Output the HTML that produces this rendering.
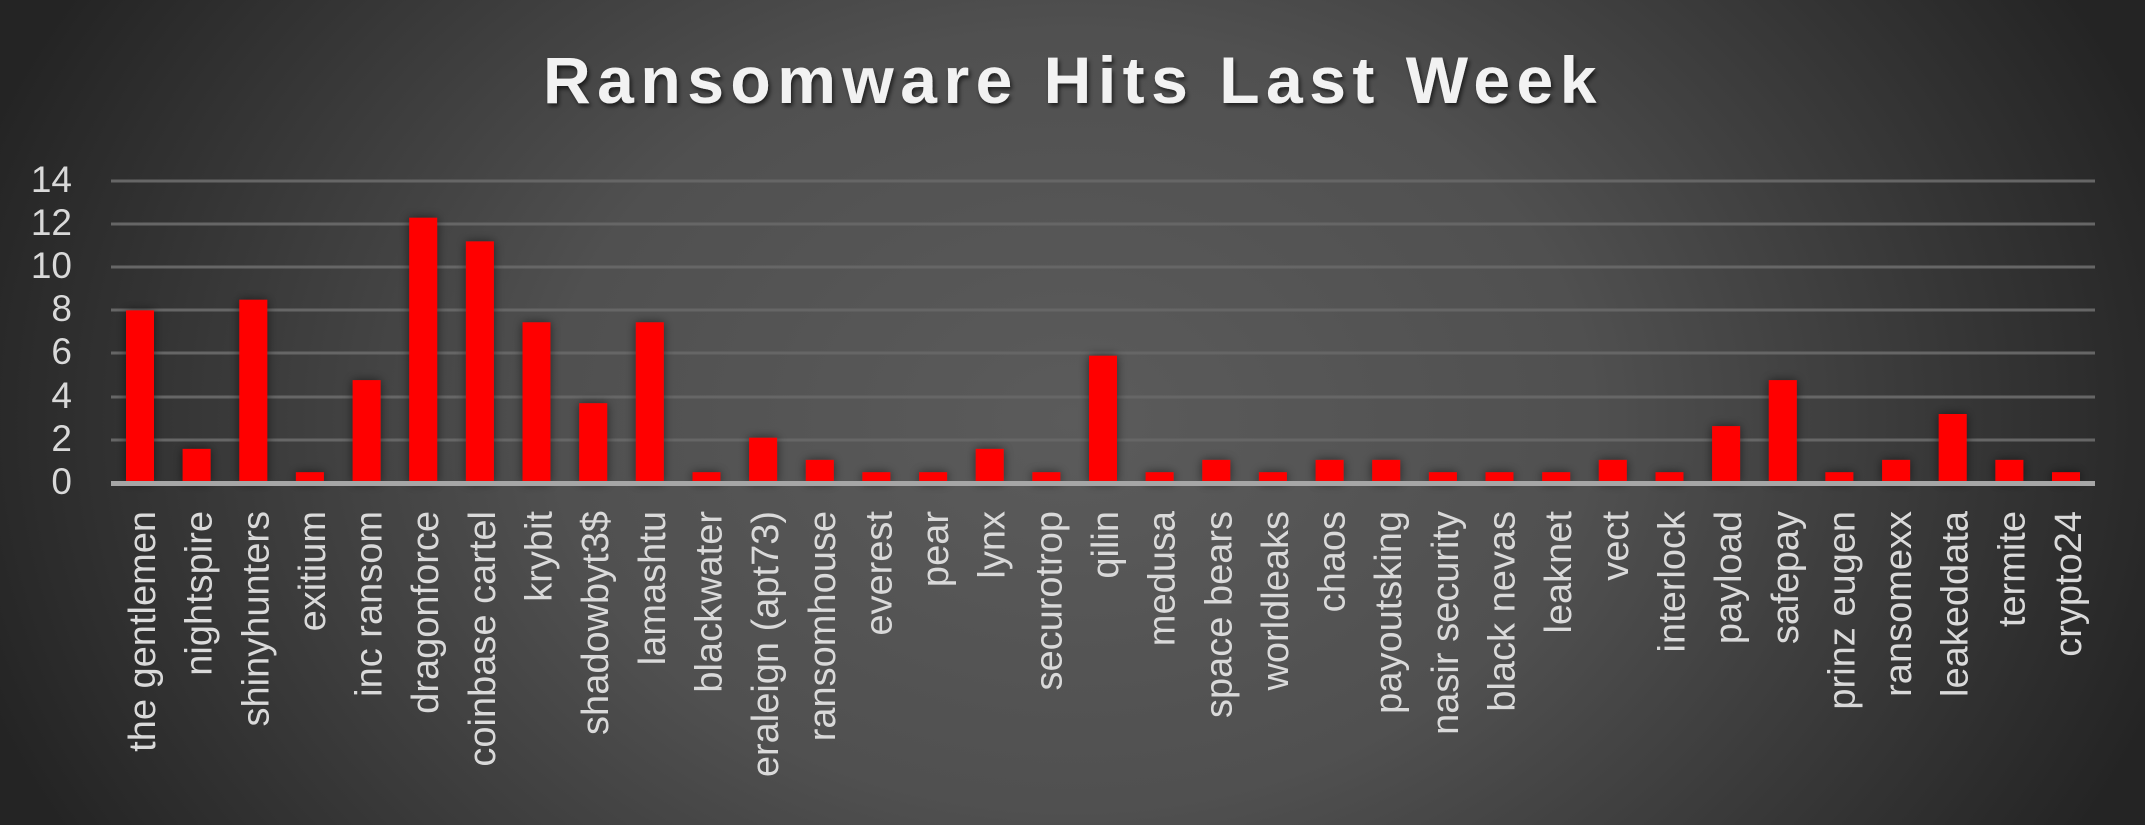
<!DOCTYPE html>
<html><head><meta charset="utf-8"><style>html,body{margin:0;padding:0;background:#262626}svg{display:block}</style></head>
<body>
<svg width="2145" height="825" viewBox="0 0 2145 825" xmlns="http://www.w3.org/2000/svg" font-family="'Liberation Sans', Arial, sans-serif">
<defs>
<radialGradient id="bg" gradientUnits="userSpaceOnUse" cx="1072" cy="420" r="1150" gradientTransform="translate(1072 420) scale(1 0.75) translate(-1072 -420)">
<stop offset="0" stop-color="#5b5b5b"/>
<stop offset="0.45" stop-color="#505050"/>
<stop offset="1" stop-color="#242424"/>
</radialGradient>
<filter id="sh" x="-50%" y="-10%" width="200%" height="120%"><feDropShadow dx="0" dy="0" stdDeviation="5" flood-color="#000" flood-opacity="0.55"/></filter>
<filter id="tsh"><feDropShadow dx="2" dy="3" stdDeviation="2" flood-color="#000" flood-opacity="0.6"/></filter>
</defs>
<rect width="2145" height="825" fill="url(#bg)"/>
<text x="1073" y="103" text-anchor="middle" font-size="66" font-weight="bold" fill="#f2f2f2" letter-spacing="6.5" filter="url(#tsh)">Ransomware Hits Last Week</text>
<g stroke="#666" stroke-width="3">
<line x1="111" x2="2095" y1="181" y2="181"/>
<line x1="111" x2="2095" y1="224" y2="224"/>
<line x1="111" x2="2095" y1="267" y2="267"/>
<line x1="111" x2="2095" y1="310" y2="310"/>
<line x1="111" x2="2095" y1="353" y2="353"/>
<line x1="111" x2="2095" y1="397" y2="397"/>
<line x1="111" x2="2095" y1="440" y2="440"/>
</g>
<g font-size="37" fill="#d9d9d9" text-anchor="end">
<text x="72" y="192">14</text><text x="72" y="235">12</text><text x="72" y="278">10</text><text x="72" y="321">8</text><text x="72" y="364">6</text><text x="72" y="408">4</text><text x="72" y="451">2</text><text x="72" y="494">0</text>
</g>
<g id="bars" fill="#ff0000" filter="url(#sh)"></g>
<rect x="111" y="481" width="1984" height="5" fill="#a6a6a6"/>
<g id="labels" font-size="38" fill="#d9d9d9" text-anchor="end"></g>
</svg>
<script>
(function(){
var names=["the gentlemen","nightspire","shinyhunters","exitium","inc ransom","dragonforce","coinbase cartel","krybit","shadowbyt3$","lamashtu","blackwater","eraleign (apt73)","ransomhouse","everest","pear","lynx","securotrop","qilin","medusa","space bears","worldleaks","chaos","payoutsking","nasir security","black nevas","leaknet","vect","interlock","payload","safepay","prinz eugen","ransomexx","leakeddata","termite","crypto24"];
var vals=[8,1.58,8.5,0.5,4.77,12.3,11.2,7.45,3.7,7.45,0.5,2.1,1.07,0.5,0.5,1.58,0.5,5.9,0.5,1.07,0.5,1.07,1.07,0.5,0.5,0.5,1.07,0.5,2.64,4.77,0.5,1.07,3.2,1.07,0.5];
var ns="http://www.w3.org/2000/svg";
var bars=document.getElementById("bars"),labs=document.getElementById("labels");
var step=(2066-140)/(names.length-1);
for(var i=0;i<names.length;i++){
 var cx=140+step*i;
 var top=483-vals[i]*21.57;
 var r=document.createElementNS(ns,"rect");
 r.setAttribute("x",(cx-14).toFixed(1));r.setAttribute("y",top.toFixed(1));
 r.setAttribute("width","28");r.setAttribute("height",(483-top).toFixed(1));
 bars.appendChild(r);
 var t=document.createElementNS(ns,"text");
 t.setAttribute("transform","translate("+(cx+15).toFixed(1)+",511) rotate(-90)");
 t.textContent=names[i];
 labs.appendChild(t);
}
})();
</script>
</body></html>
